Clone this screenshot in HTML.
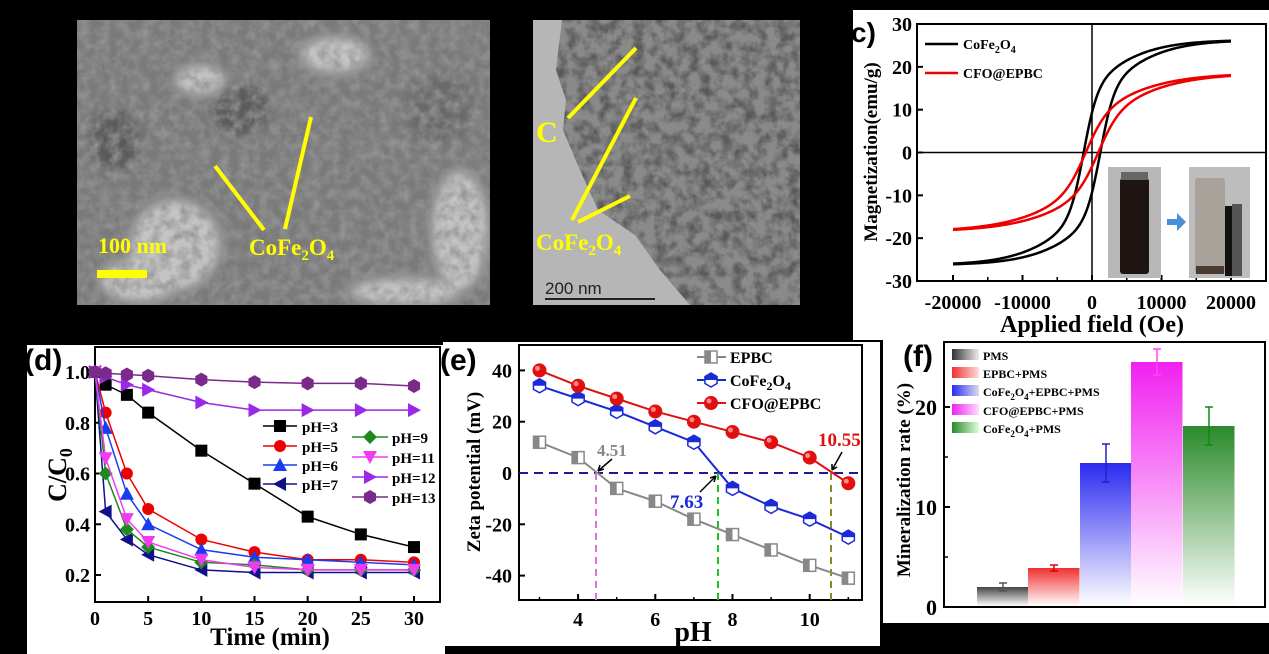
<!DOCTYPE html>
<html><head><meta charset="utf-8"><style>
html,body{margin:0;padding:0;background:#000;}
svg{display:block;}
text{font-family:"Liberation Serif",serif;font-weight:bold;}
.sans{font-family:"Liberation Sans",sans-serif;}
</style></head><body>
<svg id="s" width="1269" height="654" viewBox="0 0 1269 654" xmlns="http://www.w3.org/2000/svg">
<defs>
<filter id="semtex" x="0" y="0" width="100%" height="100%">
<feTurbulence type="fractalNoise" baseFrequency="0.1" numOctaves="3" seed="4"/>
<feColorMatrix type="matrix" values="0 0 0 0 0.3  0 0 0 0 0.3  0 0 0 0 0.3  0 0 0 -1.8 1.2"/>
</filter>
<filter id="temtex" x="0" y="0" width="100%" height="100%">
<feTurbulence type="fractalNoise" baseFrequency="0.09" numOctaves="3" seed="9"/>
<feColorMatrix type="matrix" values="0 0 0 0 0.1  0 0 0 0 0.1  0 0 0 0 0.1  0 0 0 -2.4 1.5"/>
</filter>
<filter id="blur3"><feGaussianBlur stdDeviation="5"/></filter>
<clipPath id="semclip"><rect x="77" y="20" width="413" height="285"/></clipPath>
<clipPath id="flake"><path d="M562,20 L556,70 L566,100 L563,130 L580,170 L598,210 L635,235 L660,270 L690,305 L800,305 L800,20 Z"/></clipPath>
<clipPath id="cclip"><rect x="917" y="24" width="349" height="257"/></clipPath>
<linearGradient id="gk" x1="0" y1="0" x2="0" y2="1"><stop offset="0" stop-color="#444"/><stop offset="1" stop-color="#fff"/></linearGradient>
<linearGradient id="gr" x1="0" y1="0" x2="0" y2="1"><stop offset="0" stop-color="#f03030"/><stop offset="1" stop-color="#fff"/></linearGradient>
<linearGradient id="gb" x1="0" y1="0" x2="0" y2="1"><stop offset="0" stop-color="#2a2af0"/><stop offset="1" stop-color="#fff"/></linearGradient>
<linearGradient id="gm" x1="0" y1="0" x2="0" y2="1"><stop offset="0" stop-color="#f020f0"/><stop offset="1" stop-color="#fff"/></linearGradient>
<linearGradient id="gg" x1="0" y1="0" x2="0" y2="1"><stop offset="0" stop-color="#2a8a2a"/><stop offset="1" stop-color="#fff"/></linearGradient>
<linearGradient id="lk" x1="0" y1="0" x2="1" y2="0"><stop offset="0" stop-color="#333"/><stop offset="1" stop-color="#eee"/></linearGradient>
<linearGradient id="lr" x1="0" y1="0" x2="1" y2="0"><stop offset="0" stop-color="#f03030"/><stop offset="1" stop-color="#fdd"/></linearGradient>
<linearGradient id="lb" x1="0" y1="0" x2="1" y2="0"><stop offset="0" stop-color="#2a2af0"/><stop offset="1" stop-color="#dde"/></linearGradient>
<linearGradient id="lm" x1="0" y1="0" x2="1" y2="0"><stop offset="0" stop-color="#f020f0"/><stop offset="1" stop-color="#fdf"/></linearGradient>
<linearGradient id="lg" x1="0" y1="0" x2="1" y2="0"><stop offset="0" stop-color="#2a8a2a"/><stop offset="1" stop-color="#dfd"/></linearGradient>
</defs>
<rect width="1269" height="654" fill="#000"/>

<!-- Panel a SEM -->
<g clip-path="url(#semclip)">
<rect x="77" y="20" width="413" height="285" fill="#7a7a7a"/>
<g filter="url(#blur3)" fill="#c4c4c4">
<ellipse cx="175" cy="245" rx="45" ry="45"/><ellipse cx="460" cy="230" rx="28" ry="60"/>
<ellipse cx="200" cy="80" rx="25" ry="15"/><ellipse cx="335" cy="55" rx="35" ry="18"/>
<ellipse cx="405" cy="292" rx="55" ry="14"/><ellipse cx="140" cy="280" rx="40" ry="22"/>
<ellipse cx="115" cy="140" rx="25" ry="30" fill="#5a5a5a"/><ellipse cx="440" cy="110" rx="35" ry="35" fill="#6a6a6a"/>
<ellipse cx="240" cy="110" rx="30" ry="25" fill="#5c5c5c"/>
</g>
<rect x="77" y="20" width="413" height="285" filter="url(#semtex)"/>
</g>
<g stroke="#ff0" stroke-width="4"><line x1="215" y1="166" x2="264" y2="230"/><line x1="311" y1="117" x2="285" y2="229"/></g>
<text x="98" y="253" font-size="22" fill="#ff0">100 nm</text>
<rect x="97" y="270" width="50" height="8" fill="#ff0"/>
<text x="249" y="255" font-size="23" fill="#ff0">CoFe<tspan font-size="15" dy="5">2</tspan><tspan dy="-5">O</tspan><tspan font-size="15" dy="5">4</tspan></text>

<!-- Panel b TEM -->
<rect x="533" y="20" width="267" height="285" fill="#b6b6b6"/>
<g clip-path="url(#flake)">
<rect x="533" y="20" width="267" height="285" fill="#8a8a8a"/>
<rect x="533" y="20" width="267" height="285" filter="url(#temtex)"/>
</g>
<g stroke="#ff0" stroke-width="4"><line x1="568" y1="118" x2="636" y2="48"/><line x1="572" y1="220" x2="636" y2="98"/><line x1="578" y1="222" x2="630" y2="196"/></g>
<text x="536" y="142" font-size="30" fill="#ff0">C</text>
<text x="536" y="250" font-size="23" fill="#ff0">CoFe<tspan font-size="15" dy="5">2</tspan><tspan dy="-5">O</tspan><tspan font-size="15" dy="5">4</tspan></text>
<text x="545" y="294" font-size="17" fill="#222" class="sans" style="font-weight:normal">200 nm</text>
<line x1="545" y1="299" x2="655" y2="299" stroke="#222" stroke-width="2"/>

<!-- Panel c -->
<rect x="853" y="10" width="416" height="330" fill="#fff"/>
<g id="pc"></g>

<!-- Panel d -->
<rect x="27" y="345" width="418" height="309" fill="#fff"/>
<g id="pd"></g>

<!-- Panel e -->
<rect x="443" y="342" width="437" height="304" fill="#fff"/>
<g id="pe"></g>

<!-- Panel f -->
<rect x="883" y="340" width="386" height="283" fill="#fff"/>
<g id="pf"></g>
</svg>
<script>
const NS="http://www.w3.org/2000/svg";
function el(p,tag,a,txt){const e=document.createElementNS(NS,tag);for(const k in a)e.setAttribute(k,a[k]);if(txt!==undefined)e.innerHTML=txt;document.getElementById(p).appendChild(e);return e;}
// ---------- Panel c
(function(){
const X=h=>1092+h*139/20000, Y=m=>152.5-m*257/60;
el('pc','rect',{x:917,y:24,width:349,height:257,fill:'none',stroke:'#000','stroke-width':2});
el('pc','line',{x1:1092,y1:24,x2:1092,y2:281,stroke:'#000','stroke-width':1.5});
el('pc','line',{x1:917,y1:152.5,x2:1266,y2:152.5,stroke:'#000','stroke-width':1.5});
[30,20,10,0,-10,-20,-30].forEach(v=>{el('pc','line',{x1:917,y1:Y(v),x2:923,y2:Y(v),stroke:'#000','stroke-width':2});
 el('pc','text',{x:912,y:Y(v)+7,'font-size':20,'text-anchor':'end'},v);});
[-20000,-10000,0,10000,20000].forEach(v=>{el('pc','line',{x1:X(v),y1:281,x2:X(v),y2:275,stroke:'#000','stroke-width':2});
 el('pc','text',{x:X(v),y:309,'font-size':20,'text-anchor':'middle'},v);});
[-15000,-5000,5000,15000].forEach(v=>el('pc','line',{x1:X(v),y1:281,x2:X(v),y2:277,stroke:'#000','stroke-width':1.5}));
el('pc','text',{x:1092,y:332,'font-size':24,'text-anchor':'middle'},'Applied field (Oe)');
el('pc','text',{x:0,y:0,'font-size':19,'text-anchor':'middle',transform:'translate(877,152) rotate(-90)'},'Magnetization(emu/g)');
el('pc','text',{x:851,y:42,'font-size':28,class:'sans'},'c)');
function loop(Ms,Hc,a,b,w,col){let up=[],dn=[];for(let h=-20000;h<=20000;h+=200){
 const f=x=>Ms*(w*Math.tanh(x/a)+(1-w)*Math.tanh(x/b));
 up.push([X(h),Y(f(h+Hc))]);dn.push([X(h),Y(f(h-Hc))]);}
 const d='M'+up.map(p=>p.join(',')).join(' L')+' M'+dn.map(p=>p.join(',')).join(' L');
 el('pc','path',{d:d,fill:'none',stroke:col,'stroke-width':2.5,'clip-path':'url(#cclip)'});}
loop(26.3,1200,2000,9000,0.55,'#000');
loop(18.5,900,3000,11000,0.45,'#e00');
el('pc','line',{x1:925,y1:44,x2:958,y2:44,stroke:'#000','stroke-width':2.5});
el('pc','text',{x:963,y:49,'font-size':14},'CoFe<tspan font-size="10" dy="4">2</tspan><tspan dy="-4">O</tspan><tspan font-size="10" dy="4">4</tspan>');
el('pc','line',{x1:925,y1:73,x2:958,y2:73,stroke:'#e00','stroke-width':2.5});
el('pc','text',{x:963,y:78,'font-size':14},'CFO@EPBC');
el('pc','rect',{x:1108,y:167,width:53,height:111,fill:'#b8b8b8'});
el('pc','rect',{x:1120,y:178,width:29,height:96,rx:3,fill:'#1e1512'});
el('pc','rect',{x:1121,y:172,width:27,height:8,fill:'#666'});
el('pc','rect',{x:1189,y:167,width:61,height:111,fill:'#bdbdbd'});
el('pc','rect',{x:1195,y:178,width:30,height:96,rx:3,fill:'#a9a29a'});
el('pc','rect',{x:1196,y:266,width:28,height:8,fill:'#4a3a30'});
el('pc','rect',{x:1225,y:206,width:7,height:70,fill:'#111'});
el('pc','rect',{x:1232,y:204,width:10,height:72,fill:'#555'});
el('pc','path',{d:'M1167,219 h10 v-6 l9,9 l-9,9 v-6 h-10z',fill:'#4a90d9'});
})();
// ---------- Panel d
(function(){
const X=t=>95+t*319/30, Y=c=>575-(c-0.2)*203/0.8;
el('pd','rect',{x:95,y:347,width:345,height:255,fill:'none',stroke:'#000','stroke-width':2});
[0.2,0.4,0.6,0.8,1.0].forEach(v=>{el('pd','line',{x1:95,y1:Y(v),x2:101,y2:Y(v),stroke:'#000','stroke-width':2});
 el('pd','text',{x:90,y:Y(v)+7,'font-size':20,'text-anchor':'end'},v.toFixed(1));});
[0,5,10,15,20,25,30].forEach(v=>{el('pd','line',{x1:X(v),y1:602,x2:X(v),y2:596,stroke:'#000','stroke-width':2});
 el('pd','text',{x:X(v),y:625,'font-size':20,'text-anchor':'middle'},v);});
el('pd','text',{x:270,y:645,'font-size':25,'text-anchor':'middle'},'Time (min)');
el('pd','text',{x:0,y:0,'font-size':26,'text-anchor':'middle',transform:'translate(66,475) rotate(-90)'},'C/C<tspan font-size="18" dy="6">0</tspan>');
el('pd','text',{x:24,y:370,'font-size':30,class:'sans'},'(d)');
const T=[0,1,3,5,10,15,20,25,30];
const S=[
['#000','sq',[1,0.95,0.91,0.84,0.69,0.56,0.43,0.36,0.31]],
['#e00','ci',[1,0.84,0.60,0.46,0.34,0.29,0.26,0.26,0.25]],
['#1a3cf0','tu',[1,0.78,0.52,0.40,0.30,0.27,0.26,0.25,0.24]],
['#10108a','tl',[1,0.45,0.34,0.28,0.22,0.21,0.21,0.21,0.21]],
['#1e8a1e','di',[1,0.60,0.38,0.31,0.25,0.24,0.22,0.22,0.22]],
['#f03cf0','td',[1,0.66,0.42,0.33,0.26,0.23,0.22,0.22,0.22]],
['#9a28e8','tr',[1,0.98,0.95,0.93,0.88,0.85,0.85,0.85,0.85]],
['#7a2a88','hx',[1,0.995,0.99,0.985,0.97,0.96,0.955,0.955,0.945]]];
function mk(g,x,y,t,c,r){r=r||6;let d;
 if(t=='sq')return el(g,'rect',{x:x-r,y:y-r,width:2*r,height:2*r,fill:c});
 if(t=='ci')return el(g,'circle',{cx:x,cy:y,r:r,fill:c});
 if(t=='tu')d=`M${x},${y-r-1} L${x+r+1},${y+r} L${x-r-1},${y+r}Z`;
 if(t=='td')d=`M${x},${y+r+1} L${x+r+1},${y-r} L${x-r-1},${y-r}Z`;
 if(t=='tl')d=`M${x-r-1},${y} L${x+r},${y-r-1} L${x+r},${y+r+1}Z`;
 if(t=='tr')d=`M${x+r+1},${y} L${x-r},${y-r-1} L${x-r},${y+r+1}Z`;
 if(t=='di')d=`M${x},${y-r-1} L${x+r+1},${y} L${x},${y+r+1} L${x-r-1},${y}Z`;
 if(t=='hx'){d='M';for(let i=0;i<6;i++){const a=Math.PI/3*i+Math.PI/6;d+=(x+(r+1)*Math.cos(a))+','+(y+(r+1)*Math.sin(a))+' ';}d+='Z';}
 return el(g,'path',{d:d,fill:c});}
S.forEach(s=>{el('pd','polyline',{points:T.map((t,i)=>X(t)+','+Y(s[2][i])).join(' '),fill:'none',stroke:s[0],'stroke-width':1.5});
 T.forEach((t,i)=>mk('pd',X(t),Y(s[2][i]),s[1],s[0]));});
const L1=[[0,'pH=3',426],[1,'pH=5',446],[2,'pH=6',465],[3,'pH=7',484]];
const L2=[[4,'pH=9',437],[5,'pH=11',457],[6,'pH=12',477],[7,'pH=13',497]];
L1.forEach(l=>{const s=S[l[0]];el('pd','line',{x1:263,y1:l[2],x2:297,y2:l[2],stroke:s[0],'stroke-width':1.5});mk('pd',280,l[2],s[1],s[0]);
 el('pd','text',{x:302,y:l[2]+6,'font-size':15},l[1]);});
L2.forEach(l=>{const s=S[l[0]];el('pd','line',{x1:352,y1:l[2],x2:388,y2:l[2],stroke:s[0],'stroke-width':1.5});mk('pd',370,l[2],s[1],s[0]);
 el('pd','text',{x:392,y:l[2]+6,'font-size':15},l[1]);});
})();
// ---------- Panel e
(function(){
const X=p=>539.5+(p-3)*38.6, Y=v=>473-v*51.3/20;
el('pe','rect',{x:519,y:345,width:343,height:255,fill:'none',stroke:'#000','stroke-width':2});
[40,20,0,-20,-40].forEach(v=>{el('pe','line',{x1:519,y1:Y(v),x2:525,y2:Y(v),stroke:'#000','stroke-width':2});
 el('pe','text',{x:512,y:Y(v)+7,'font-size':20,'text-anchor':'end'},v);});
[4,6,8,10].forEach(v=>{el('pe','line',{x1:X(v),y1:600,x2:X(v),y2:594,stroke:'#000','stroke-width':2});
 el('pe','text',{x:X(v),y:626,'font-size':20,'text-anchor':'middle'},v);});
[3,5,7,9,11].forEach(v=>el('pe','line',{x1:X(v),y1:600,x2:X(v),y2:597,stroke:'#000','stroke-width':1.5}));
el('pe','text',{x:693,y:641,'font-size':28,'text-anchor':'middle'},'pH');
el('pe','text',{x:0,y:0,'font-size':19,'text-anchor':'middle',transform:'translate(480,472) rotate(-90)'},'Zeta potential (mV)');
el('pe','text',{x:440,y:370,'font-size':30,class:'sans'},'(e)');
el('pe','line',{x1:519,y1:473,x2:862,y2:473,stroke:'#1a1a9a','stroke-width':2,'stroke-dasharray':'9,6'});
el('pe','line',{x1:596,y1:473,x2:596,y2:600,stroke:'#e070e0','stroke-width':2,'stroke-dasharray':'7,5'});
el('pe','line',{x1:718,y1:473,x2:718,y2:600,stroke:'#20c020','stroke-width':2,'stroke-dasharray':'7,5'});
el('pe','line',{x1:831,y1:473,x2:831,y2:600,stroke:'#8a8a20','stroke-width':2,'stroke-dasharray':'7,5'});
const P=[3,4,5,6,7,8,9,10,11];
const E=[['#888',[12,6,-6,-11,-18,-24,-30,-36,-41],'sq'],['#1a2ad8',[34,29,24,18,12,-6,-13,-18,-25],'hx'],['#e01010',[40,34,29,24,20,16,12,6,-4],'ci']];
function mk(x,y,c,t){if(t=='sq'){el('pe','rect',{x:x-6,y:y-6,width:12,height:12,fill:'#fff',stroke:c,'stroke-width':1.5});el('pe','rect',{x:x-6,y:y-6,width:6,height:12,fill:c});}
 else if(t=='hx'){let d='M';for(let i=0;i<6;i++){const a=Math.PI/3*i+Math.PI/6;d+=(x+7*Math.cos(a))+','+(y+7*Math.sin(a))+' ';}
 el('pe','path',{d:d+'Z',fill:'#fff',stroke:c,'stroke-width':1.5});el('pe','path',{d:`M${x-6},${y} L${x-6},${y-3.5} L${x},${y-7} L${x+6},${y-3.5} L${x+6},${y}Z`,fill:c});}
 else{el('pe','circle',{cx:x,cy:y,r:7,fill:c});el('pe','circle',{cx:x-2,cy:y-2,r:2.5,fill:'#f88'});}}
E.forEach(s=>{el('pe','polyline',{points:P.map((p,i)=>X(p)+','+Y(s[1][i])).join(' '),fill:'none',stroke:s[0],'stroke-width':2});
 P.forEach((p,i)=>mk(X(p),Y(s[1][i]),s[0],s[2]));});
const LL=[[0,'EPBC',357],[1,'CoFe<tspan font-size="12" dy="4">2</tspan><tspan dy="-4">O</tspan><tspan font-size="12" dy="4">4</tspan>',380],[2,'CFO@EPBC',403]];
LL.forEach(l=>{const s=E[l[0]];el('pe','line',{x1:697,y1:l[2],x2:726,y2:l[2],stroke:s[0],'stroke-width':2});mk(711,l[2],s[0],s[2]);
 el('pe','text',{x:730,y:l[2]+6,'font-size':16},l[1]);});
el('pe','text',{x:597,y:456,'font-size':17,fill:'#888'},'4.51');
el('pe','text',{x:670,y:508,'font-size':19,fill:'#1a2ad8'},'7.63');
el('pe','text',{x:818,y:446,'font-size':19,fill:'#e01010'},'10.55');
el('pe','path',{d:'M612,459 L598,471 M598,471 l2,-6 M598,471 l6,-2',stroke:'#000','stroke-width':1.5,fill:'none'});
el('pe','path',{d:'M700,492 L716,476 M716,476 l-6,2 M716,476 l-2,6',stroke:'#000','stroke-width':1.5,fill:'none'});
el('pe','path',{d:'M842,452 L832,470 M832,470 l0,-6 M832,470 l5,-3',stroke:'#000','stroke-width':1.5,fill:'none'});
})();
// ---------- Panel f
(function(){
const Y=v=>607-v*10;
el('pf','rect',{x:944,y:342,width:321,height:265,fill:'none',stroke:'#000','stroke-width':2});
[0,10,20].forEach(v=>{el('pf','line',{x1:944,y1:Y(v),x2:950,y2:Y(v),stroke:'#000','stroke-width':2});
 el('pf','text',{x:937,y:Y(v)+8,'font-size':22,'text-anchor':'end'},v);});
[5,15].forEach(v=>el('pf','line',{x1:944,y1:Y(v),x2:948,y2:Y(v),stroke:'#000','stroke-width':1.5}));
el('pf','text',{x:0,y:0,'font-size':19,'text-anchor':'middle',transform:'translate(910,480) rotate(-90)'},'Mineralization rate (%)');
el('pf','text',{x:903,y:366,'font-size':30,class:'sans'},'(f)');
const B=[[977,2.0,0.4,'gk','#555'],[1028,3.9,0.3,'gr','#d00'],[1080,14.4,1.9,'gb','#22c'],[1131,24.5,1.3,'gm','#f4f'],[1183,18.1,1.9,'gg','#181']];
B.forEach(b=>{el('pf','rect',{x:b[0],y:Y(b[1]),width:51.5,height:b[1]*10-1,fill:'url(#'+b[3]+')'});
 const cx=b[0]+26;el('pf','path',{d:`M${cx},${Y(b[1]+b[2])} V${Y(b[1]-b[2])} M${cx-4},${Y(b[1]+b[2])} h8 M${cx-4},${Y(b[1]-b[2])} h8`,stroke:b[4],'stroke-width':1.5,fill:'none'});});
const L=[['lk','PMS',355],['lr','EPBC+PMS',373],['lb','CoFe<tspan font-size="9" dy="4">2</tspan><tspan dy="-4">O</tspan><tspan font-size="9" dy="4">4</tspan><tspan dy="-4">+EPBC+PMS</tspan>',391],['lm','CFO@EPBC+PMS',410],['lg','CoFe<tspan font-size="9" dy="4">2</tspan><tspan dy="-4">O</tspan><tspan font-size="9" dy="4">4</tspan><tspan dy="-4">+PMS</tspan>',428]];
L.forEach(l=>{el('pf','rect',{x:952,y:l[2]-6,width:27,height:11,fill:'url(#'+l[0]+')'});el('pf','text',{x:983,y:l[2]+5,'font-size':12},l[1]);});
})();
</script>
</body></html>
